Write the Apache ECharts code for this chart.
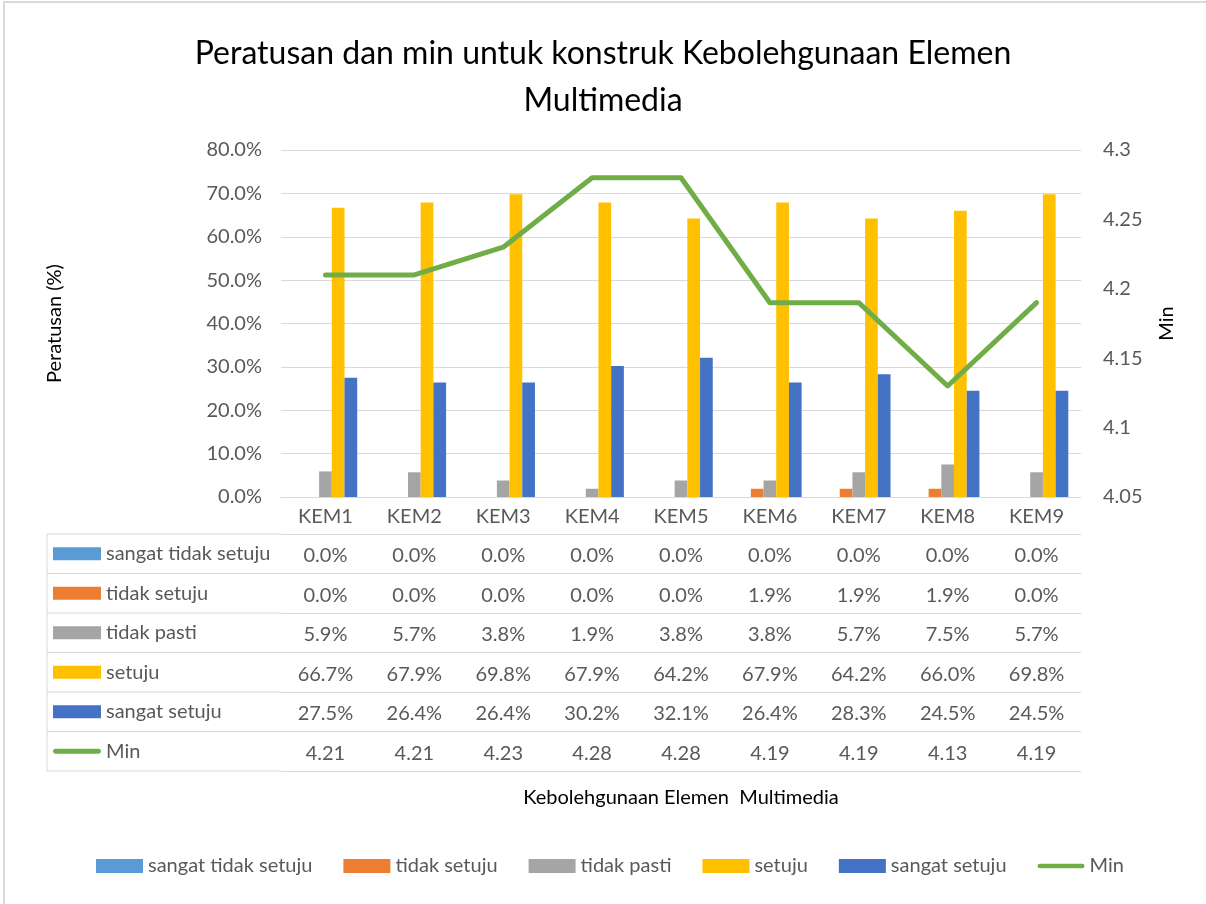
<!DOCTYPE html>
<html>
<head>
<meta charset="utf-8">
<script src="https://cdn.jsdelivr.net/npm/echarts@6/dist/echarts.min.js"></script>
<style>
  html, body { margin: 0; padding: 0; background: #fff; }
  #main { width: 1206px; height: 904px; }
</style>
</head>
<body>
<div id="main"></div>
<script>
// data
const categories = ['KEM1', 'KEM2', 'KEM3', 'KEM4', 'KEM5', 'KEM6', 'KEM7', 'KEM8', 'KEM9']
const sangatTidakSetuju = [0.0, 0.0, 0.0, 0.0, 0.0, 0.0, 0.0, 0.0, 0.0]
const tidakSetuju = [0.0, 0.0, 0.0, 0.0, 0.0, 1.9, 1.9, 1.9, 0.0]
const tidakPasti = [5.9, 5.7, 3.8, 1.9, 3.8, 3.8, 5.7, 7.5, 5.7]
const setuju = [66.7, 67.9, 69.8, 67.9, 64.2, 67.9, 64.2, 66.0, 69.8]
const sangatSetuju = [27.5, 26.4, 26.4, 30.2, 32.1, 26.4, 28.3, 24.5, 24.5]
const minValues = [4.21, 4.21, 4.23, 4.28, 4.28, 4.19, 4.19, 4.13, 4.19]
const seriesNames = ['sangat tidak setuju', 'tidak setuju', 'tidak pasti', 'setuju', 'sangat setuju', 'Min']
const colors = ['#5B9BD5', '#ED7D31', '#A5A5A5', '#FFC000', '#4472C4', '#70AD47']

const FONT = 'Lato'
const GRAY = '#595959'
const LINE = '#D9D9D9'
const FS = 20

// layout
const gridLeft = 281
const gridRight = 125
const gridTop = 150
const gridHeight = 347
const gridBottomY = gridTop + gridHeight
const headerH = 37
const rowH = 39.5
const tableLeft = 47

const myChart = echarts.init(document.getElementById('main'))

const barData = [sangatTidakSetuju, tidakSetuju, tidakPasti, setuju, sangatSetuju]
const tableRows = barData.map(arr => arr.map(v => v.toFixed(1) + '%'))
  .concat([minValues.map(v => v.toFixed(2))])

const minIcon = 'path://M5,0 H95 A5,5 0 0 1 95,10 H5 A5,5 0 0 1 5,0 Z'
const legendData = seriesNames.map(function (n, i) {
  if (i === 5) return { name: n, icon: minIcon, itemStyle: { borderWidth: 0 } }
  return { name: n, icon: 'rect' }
})

// x axes: header row + one per table row (labels are the cell texts)
let xAxes = [{
  type: 'category',
  data: categories,
  position: 'bottom',
  axisLine: { lineStyle: { color: LINE, width: 1 } },
  axisTick: { interval: 0, length: headerH, lineStyle: { color: LINE } },
  axisLabel: { interval: 0, margin: 10, fontSize: FS, color: GRAY, fontFamily: FONT },
  name: 'Kebolehgunaan Elemen  Multimedia',
  nameLocation: 'middle',
  nameGap: 291,
  nameTextStyle: { fontSize: FS, color: '#000', fontFamily: FONT }
}]
tableRows.forEach(function (row, i) {
  xAxes.push({
    type: 'category',
    data: row,
    position: 'bottom',
    offset: headerH + rowH * i,
    axisLine: { lineStyle: { color: LINE, width: 1 } },
    axisTick: { interval: 0, length: rowH, lineStyle: { color: LINE } },
    axisLabel: { interval: 0, margin: 12, fontSize: FS, color: GRAY, fontFamily: FONT }
  })
})
// closing line of the table
xAxes.push({
  type: 'category',
  data: categories,
  position: 'bottom',
  offset: headerH + rowH * tableRows.length,
  axisLine: { lineStyle: { color: LINE, width: 1 } },
  axisTick: { show: false },
  axisLabel: { show: false }
})

// left column lines of the table
let tableLines = []
for (let i = 0; i <= tableRows.length; i++) {
  const y = gridBottomY + headerH + rowH * i
  tableLines.push({
    type: 'line',
    shape: { x1: tableLeft, y1: y, x2: gridLeft, y2: y },
    style: { stroke: LINE, lineWidth: 1 }
  })
}
tableLines.push({
  type: 'line',
  shape: { x1: tableLeft, y1: gridBottomY + headerH, x2: tableLeft, y2: gridBottomY + headerH + rowH * tableRows.length },
  style: { stroke: LINE, lineWidth: 1 }
})
// chart border
tableLines.push({
  type: 'rect',
  shape: { x: 4, y: 2, width: 1220, height: 920 },
  style: { fill: null, stroke: LINE, lineWidth: 2 }
})

let seriesList = barData.map(function (arr, i) {
  return {
    name: seriesNames[i],
    type: 'bar',
    data: arr,
    barWidth: 12.7,
    barGap: '0%',
    itemStyle: { color: colors[i] }
  }
})
seriesList.push({
  name: 'Min',
  type: 'line',
  yAxisIndex: 1,
  data: minValues,
  symbol: 'none',
  color: colors[5],
  lineStyle: { color: colors[5], width: 5, cap: 'round', join: 'round' }
})

const option = {
  animation: false,
  color: colors,
  textStyle: { fontFamily: FONT },
  title: {
    text: 'Peratusan dan min untuk konstruk Kebolehgunaan Elemen\nMultimedia',
    left: 'center',
    top: 25,
    textStyle: { fontSize: 32, lineHeight: 47, fontWeight: 'normal', color: '#000', fontFamily: FONT }
  },
  legend: [{
    orient: 'vertical',
    left: 53,
    top: gridBottomY + headerH + rowH / 2 - 12,
    padding: 0,
    itemWidth: 48,
    itemHeight: 13,
    itemGap: rowH - 24,
    selectedMode: false,
    textStyle: { fontSize: FS, lineHeight: 24, color: GRAY, fontFamily: FONT },
    data: legendData
  }, {
    orient: 'horizontal',
    left: 96,
    top: 854,
    padding: 0,
    itemWidth: 47,
    itemHeight: 14,
    itemGap: 31,
    selectedMode: false,
    textStyle: { fontSize: FS, lineHeight: 24, color: GRAY, fontFamily: FONT },
    data: legendData
  }],
  grid: {
    left: gridLeft,
    right: gridRight,
    top: gridTop,
    height: gridHeight,
    containLabel: false,
    outerBoundsMode: 'none'
  },
  xAxis: xAxes,
  yAxis: [{
    type: 'value',
    min: 0,
    max: 80,
    interval: 10,
    axisLine: { show: false },
    axisTick: { show: false },
    splitLine: { lineStyle: { color: LINE, width: 1 } },
    axisLabel: {
      margin: 19,
      fontSize: FS,
      color: GRAY,
      fontFamily: FONT,
      formatter: function (v) { return v.toFixed(1) + '%' }
    },
    name: 'Peratusan (%)',
    nameLocation: 'middle',
    nameGap: 216,
    nameRotate: 90,
    nameTextStyle: { fontSize: FS, color: '#000', fontFamily: FONT }
  }, {
    type: 'value',
    min: 4.05,
    max: 4.3,
    interval: 0.05,
    axisLine: { show: false },
    axisTick: { show: false },
    splitLine: { show: false },
    axisLabel: { margin: 22, fontSize: FS, color: GRAY, fontFamily: FONT },
    name: 'Min',
    nameLocation: 'middle',
    nameGap: 76,
    nameRotate: 90,
    nameTextStyle: { fontSize: FS, color: '#000', fontFamily: FONT }
  }],
  graphic: tableLines,
  series: seriesList
}

option && myChart.setOption(option)
</script>
</body>
</html>
